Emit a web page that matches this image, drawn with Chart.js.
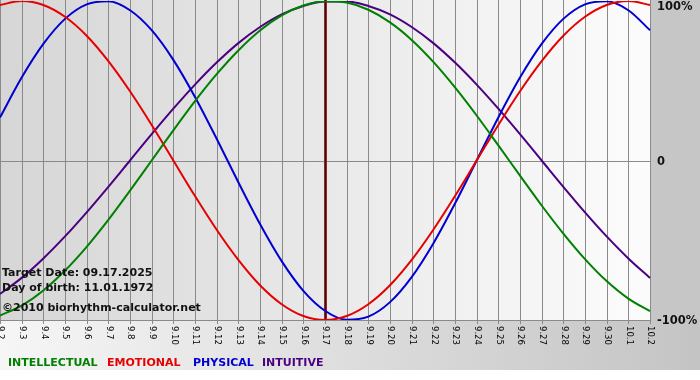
<!DOCTYPE html>
<html>
<head>
<meta charset="utf-8">
<title>Biorhythm</title>
<script src="https://cdn.jsdelivr.net/npm/chart.js@4/dist/chart.umd.min.js"></script>
<style>
  html, body { margin: 0; padding: 0; background: #fff; }
  #wrap { width: 700px; height: 380px; }
</style>
</head>
<body>
<div id="wrap"><canvas id="bio" width="700" height="380"></canvas></div>
<script>
// Days shown on the x axis
const days = ['9.2', '9.3', '9.4', '9.5', '9.6', '9.7', '9.8', '9.9', '9.10', '9.11',
    '9.12', '9.13', '9.14', '9.15', '9.16', '9.17', '9.18', '9.19', '9.20', '9.21',
    '9.22', '9.23', '9.24', '9.25', '9.26', '9.27', '9.28', '9.29', '9.30', '10.1', '10.2'];

// Cycle values in percent, one per day
const intellectual = [-97.2, -91.0, -81.5, -69.0, -54.1, -37.2, -18.9, 0, 18.9, 37.2, 54.1,
    69.0, 81.5, 91.0, 97.2, 99.9, 99.0, 94.5, 86.6, 75.6, 61.8, 45.8, 28.2, 9.5, -9.5,
    -28.2, -45.8, -61.8, -75.6, -86.6, -94.5];
const emotional = [97.5, 100, 97.5, 90.1, 78.2, 62.3, 43.4, 22.3, 0, -22.3, -43.4, -62.3,
    -78.2, -90.1, -97.5, -100, -97.5, -90.1, -78.2, -62.3, -43.4, -22.3, 0, 22.3, 43.4,
    62.3, 78.2, 90.1, 97.5, 100, 97.5];
const physical = [27.0, 52.0, 73.1, 88.8, 97.9, 99.8, 94.2, 81.7, 63.1, 39.8, 13.6, -13.6,
    -39.8, -63.1, -81.7, -94.2, -99.8, -97.9, -88.8, -73.1, -52.0, -27.0, 0, 27.0, 52.0,
    73.1, 88.8, 97.9, 99.8, 94.2, 81.7];
const intuitive = [-83.7, -73.6, -61.4, -47.6, -32.5, -16.5, 0, 16.5, 32.5, 47.6, 61.4,
    73.6, 83.7, 91.6, 96.9, 99.7, 99.7, 96.9, 91.6, 83.7, 73.6, 61.4, 47.6, 32.5, 16.5, 0,
    -16.5, -32.5, -47.6, -61.4, -73.6];

// Right side tick labels
const yTicks = [100, 0, -100];
const yTickLabels = ['100%', '0', '-100%'];

const targetDay = '9.17';
const infoLines = ['Target Date: 09.17.2025', 'Day of birth: 11.01.1972', '\u00A92010 biorhythm-calculator.net'];
const legendNames = ['INTELLECTUAL', 'EMOTIONAL', 'PHYSICAL', 'INTUITIVE'];

const colors = ['#008000', '#e60000', '#0000d0', '#4b0082'];
const FONT = '"DejaVu Sans", Verdana, sans-serif';

// Backgrounds, grid and the target day marker
const backdrop = {
    id: 'backdrop',
    beforeDraw(chart) {
        const { ctx, chartArea: a, width } = chart;
        ctx.save();
        ctx.fillStyle = '#ffffff';
        ctx.fillRect(0, 0, width, chart.height);

        // gray column on the right
        ctx.fillStyle = '#c6c6c6';
        ctx.fillRect(a.right, 0, width - a.right, a.bottom + 1);

        // band under the plot
        let g = ctx.createLinearGradient(0, 0, width, 0);
        g.addColorStop(0, '#f6f6f6');
        g.addColorStop(1, '#c4c4c4');
        ctx.fillStyle = g;
        ctx.fillRect(0, a.bottom, width, 370 - a.bottom);

        // plot area
        g = ctx.createLinearGradient(a.left, 0, a.right, 0);
        g.addColorStop(0, '#d6d6d6');
        g.addColorStop(1, '#fcfcfc');
        ctx.fillStyle = g;
        ctx.fillRect(a.left, 0, a.right - a.left, a.bottom);
        ctx.restore();
    },
    beforeDatasetsDraw(chart) {
        const { ctx, chartArea: a, scales } = chart;
        ctx.save();
        ctx.strokeStyle = '#8a8a8a';
        ctx.lineWidth = 1;
        days.forEach((d, i) => {
            const x = Math.round(scales.x.getPixelForValue(i)) + 0.5;
            ctx.beginPath();
            ctx.moveTo(x, 0);
            ctx.lineTo(x, a.bottom + 4);
            ctx.stroke();
        });
        const y0 = Math.round(scales.y.getPixelForValue(0)) + 0.5;
        ctx.beginPath();
        ctx.moveTo(a.left, y0);
        ctx.lineTo(a.right, y0);
        ctx.stroke();
        ctx.beginPath();
        ctx.moveTo(a.left, a.bottom + 0.5);
        ctx.lineTo(a.right, a.bottom + 0.5);
        ctx.stroke();

        // target day
        const xt = Math.round(scales.x.getPixelForValue(days.indexOf(targetDay)));
        ctx.strokeStyle = '#8c2a2a';
        ctx.lineWidth = 3;
        ctx.beginPath();
        ctx.moveTo(xt + 0.5, 0);
        ctx.lineTo(xt + 0.5, a.bottom);
        ctx.stroke();
        ctx.strokeStyle = '#4a0a0a';
        ctx.lineWidth = 1;
        ctx.beginPath();
        ctx.moveTo(xt + 0.5, 0);
        ctx.lineTo(xt + 0.5, a.bottom);
        ctx.stroke();
        ctx.restore();
    },
    afterDraw(chart) {
        const { ctx, chartArea: a, scales } = chart;
        ctx.save();

        // day labels, turned to read downwards
        ctx.fillStyle = '#000';
        ctx.font = '8.5px ' + FONT;
        ctx.textAlign = 'left';
        ctx.textBaseline = 'middle';
        days.forEach((d, i) => {
            const x = scales.x.getPixelForValue(i);
            ctx.save();
            ctx.translate(x + 0.5, a.bottom + 6);
            ctx.rotate(Math.PI / 2);
            ctx.fillText(d, 0, 0);
            ctx.restore();
        });

        // percent labels
        ctx.font = 'bold 11.5px ' + FONT;
        ctx.fillStyle = '#111';
        yTicks.forEach((v, i) => {
            const y = Math.max(scales.y.getPixelForValue(v) + 1.5, 7);
            ctx.fillText(yTickLabels[i], a.right + 7, y);
        });

        // info block
        ctx.font = 'bold 11px ' + FONT;
        ctx.textBaseline = 'alphabetic';
        ctx.fillStyle = '#111';
        const infoY = [276, 291, 311];
        infoLines.forEach((t, i) => ctx.fillText(t, 2, infoY[i]));

        // legend
        const legendX = [8, 107, 193, 262];
        legendNames.forEach((t, i) => {
            ctx.fillStyle = colors[i];
            ctx.fillText(t, legendX[i], 366);
        });
        ctx.restore();
    }
};

const series = [intellectual, emotional, physical, intuitive];

new Chart(document.getElementById('bio'), {
    type: 'line',
    data: {
        labels: days,
        datasets: series.map((values, i) => ({
            label: legendNames[i],
            data: values,
            borderColor: colors[i],
            borderWidth: 2,
            pointRadius: 0,
            cubicInterpolationMode: 'monotone',
            fill: false
        }))
    },
    options: {
        responsive: false,
        animation: false,
        devicePixelRatio: 1,
        layout: { padding: { left: 0, right: 50, top: 1, bottom: 60 } },
        scales: {
            x: { display: false },
            y: { display: false, min: -100, max: 100 }
        },
        plugins: {
            legend: { display: false },
            tooltip: { enabled: false }
        }
    },
    plugins: [backdrop]
});
</script>
</body>
</html>
